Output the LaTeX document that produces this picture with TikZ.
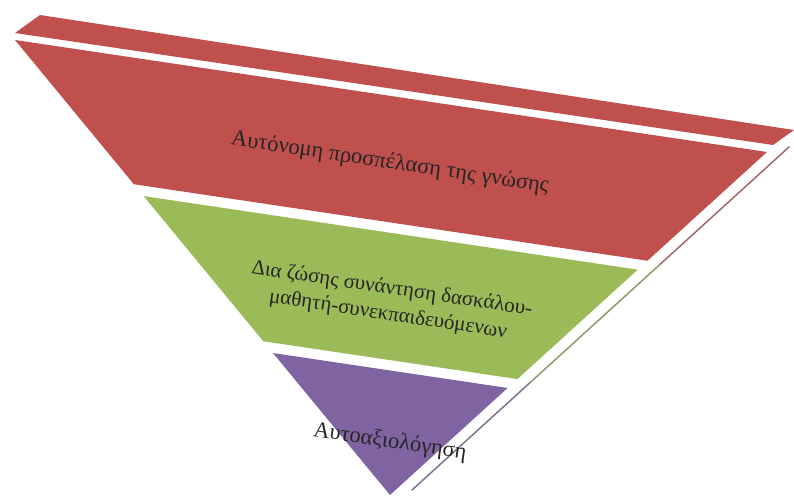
\documentclass[tikz,border=0pt]{standalone}
\usepackage{fontspec}
\setmainfont{Liberation Serif}
\usetikzlibrary{calc}
\definecolor{bandred}{HTML}{C0504D}
\definecolor{bandgreen}{HTML}{9BBB59}
\definecolor{bandpurple}{HTML}{8064A2}

\begin{document}
\begin{tikzpicture}[x=1pt,y=1pt,line join=round,line cap=round,
  bandtext/.style={rotate=-8.5,align=center,text=black!85,font=\fontsize{22.5}{26}\selectfont}]
  \useasboundingbox (0,0) rectangle (794,499);
  \coordinate (A) at (15,459);
  \coordinate (B) at (767,347);
  \coordinate (C) at (390,4);

  % rim of the top face
  \fill[bandred] ($(A)+(25,25)$) -- ($(B)+(27,22)$) -- ($(B)+(6,7)$) -- ($(A)+(0,7)$) -- cycle;

  \foreach \lo/\hi/\col in {0/.317/bandred,.343/.662/bandgreen,.688/1/bandpurple}{
    \fill[\col] ($(A)!\lo!(C)$) -- ($(B)!\lo!(C)$) -- ($(B)!\hi!(C)$) -- ($(A)!\hi!(C)$) -- cycle;
  }
  % side edge
  \foreach \lo/\hi/\col in {0/.343/bandred,.343/.688/bandgreen,.688/1/bandpurple}{
    \draw[\col!45!gray,line width=1.5pt] ($(B)!\lo!(C)+(22,5)$) -- ($(B)!\hi!(C)+(22,5)$);
  }

  \node[bandtext] (knowledge) at (390,336) {Αυτόνομη προσπέλαση της γνώσης};
  \node[bandtext,font=\fontsize{21}{26}\selectfont] (meeting) at (390,197) {Δια ζώσης συνάντηση δασκάλου-\\μαθητή-συνεκπαιδευόμενων};
  \node[bandtext] (selfeval) at (390,57) {Αυτοαξιολόγηση};
\end{tikzpicture}
\end{document}
